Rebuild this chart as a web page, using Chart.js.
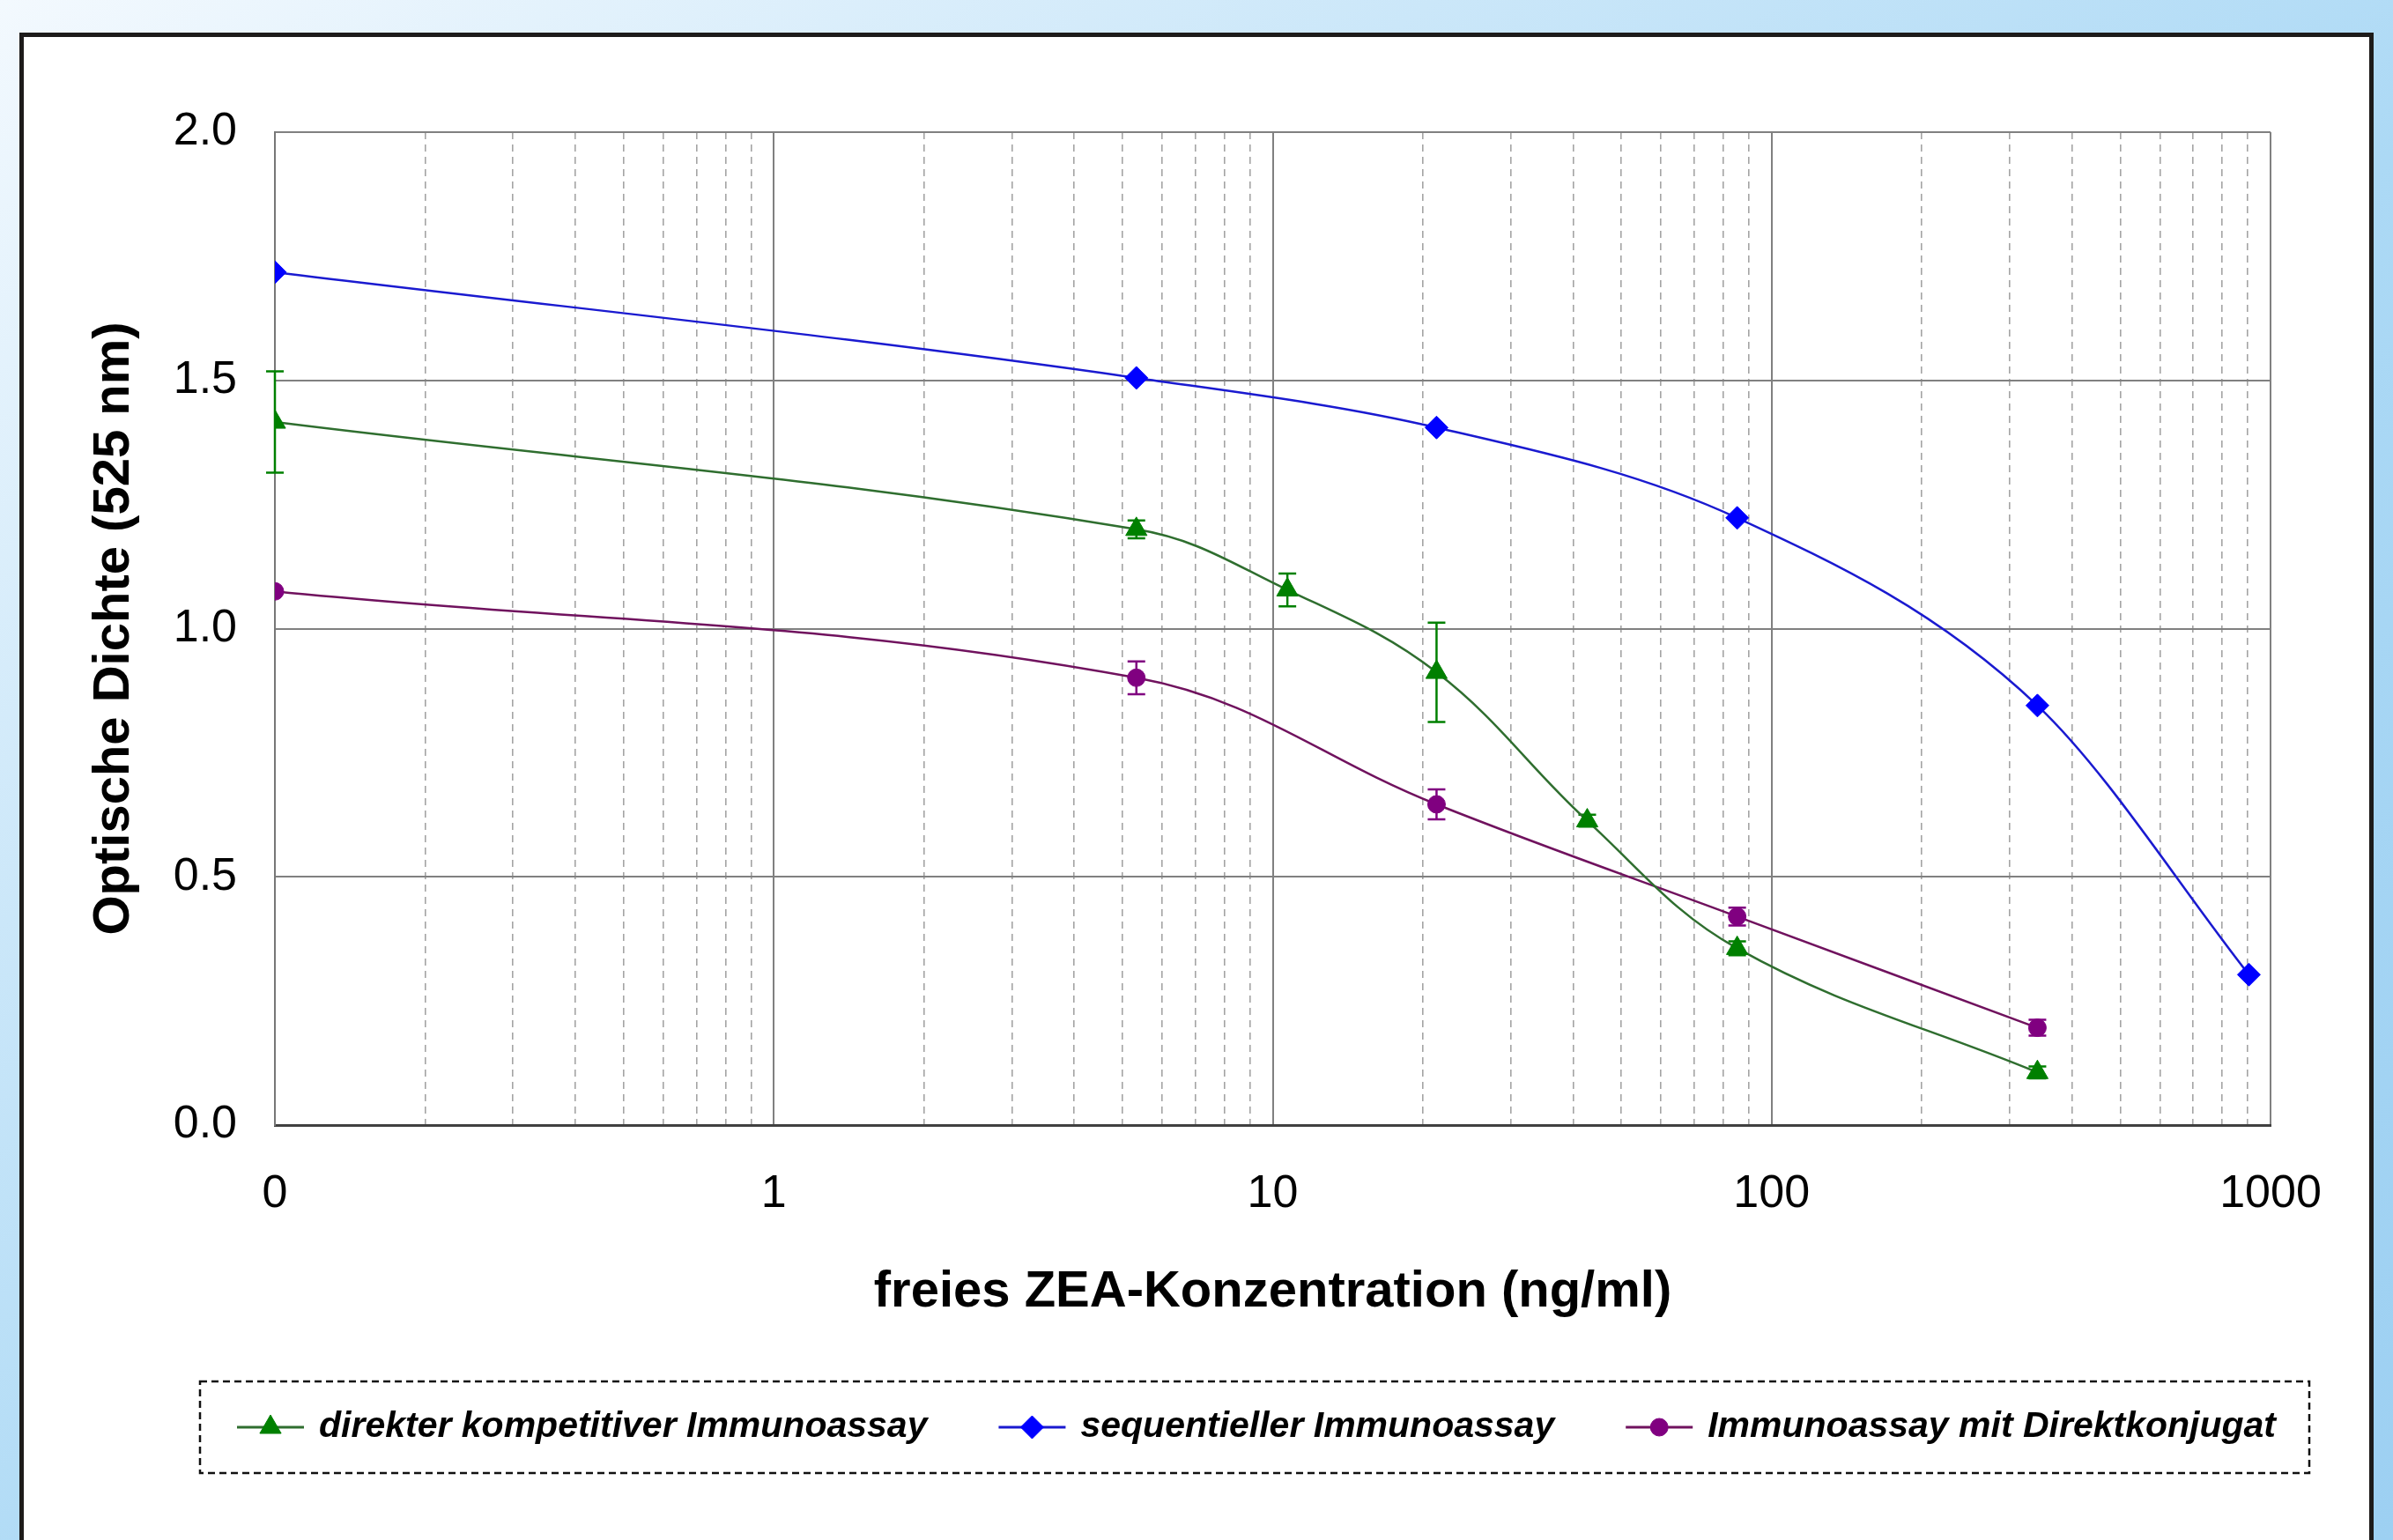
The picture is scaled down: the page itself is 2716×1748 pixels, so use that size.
<!DOCTYPE html>
<html>
<head>
<meta charset="utf-8">
<script src="https://cdn.jsdelivr.net/npm/chart.js@4.4.1/dist/chart.umd.min.js"></script>
<style>
  html, body { margin: 0; padding: 0; width: 2716px; height: 1748px; overflow: hidden; }
  body {
    position: relative;
    background: linear-gradient(to bottom right, #f3f9fe 0%, #cbe7f9 30%, #acd9f5 55%, #9dd0f2 100%);
  }
  #frame {
    position: absolute; left: 22px; top: 37px;
    width: 2662px; height: 1800px;
    border: 5px solid #1d1b1a; background: #fff;
  }
  #chart { position: absolute; left: 0; top: 0; }
</style>
</head>
<body>
<div id="frame"></div>
<canvas id="chart" width="2716" height="1748"></canvas>
<script>
// Achsen: log-Skala, "0" wird bei 0.1 aufgetragen
const xDecades    = [0.1, 1, 10, 100, 1000];
const xTickLabels = ['0', '1', '10', '100', '1000'];
const xMinorSteps = [2, 3, 4, 5, 6, 7, 8, 9];

// direkter kompetitiver Immunoassay
const dirConc = [0.1, 5.33, 10.7, 21.3, 42.7, 85.3, 341];
const dirOD   = [1.416, 1.200, 1.078, 0.912, 0.613, 0.356, 0.106];
const dirErr  = [0.102, 0.018, 0.033, 0.100, 0.012, 0.014, 0.012];

// sequentieller Immunoassay
const seqConc = [0.1, 5.33, 21.3, 85.3, 341, 905];
const seqOD   = [1.718, 1.505, 1.405, 1.223, 0.845, 0.303];

// Immunoassay mit Direktkonjugat
const konjConc = [0.1, 5.33, 21.3, 85.3, 341];
const konjOD   = [1.075, 0.901, 0.646, 0.420, 0.196];
const konjErr  = [0, 0.033, 0.030, 0.018, 0.016];

const toPoints = (xs, ys) => xs.map((x, i) => ({ x, y: ys[i] }));
const isDecade = v => Math.abs(Math.log10(v) - Math.round(Math.log10(v))) < 1e-6;

const FONT = '"Liberation Sans", Arial, sans-serif';
const LEGEND_FONT = 'italic bold 41px "Liberation Sans", Arial, sans-serif';

/* ── Fehlerbalken ── */
const errorBars = {
  id: 'errorBars',
  beforeDatasetsDraw(chart) {
    const { ctx, scales: { x, y } } = chart;
    chart.data.datasets.forEach(ds => {
      if (!ds.errors) return;
      ctx.save();
      ctx.strokeStyle = ds.pointBackgroundColor;
      ctx.lineWidth = 2.5;
      ds.data.forEach((p, j) => {
        const e = ds.errors[j];
        if (!e) return;
        const px = x.getPixelForValue(p.x);
        const top = y.getPixelForValue(p.y + e);
        const bot = y.getPixelForValue(p.y - e);
        ctx.beginPath();
        ctx.moveTo(px, top); ctx.lineTo(px, bot);
        ctx.moveTo(px - 10, top); ctx.lineTo(px + 10, top);
        ctx.moveTo(px - 10, bot); ctx.lineTo(px + 10, bot);
        ctx.stroke();
      });
      ctx.restore();
    });
  }
};

/* ── Legende im gestrichelten Kasten ── */
const boxLegend = {
  id: 'boxLegend',
  afterDraw(chart) {
    const { ctx } = chart;
    const cy = 1620;
    ctx.save();
    ctx.strokeStyle = '#111';
    ctx.lineWidth = 2.5;
    ctx.setLineDash([8, 5]);
    ctx.strokeRect(227, 1568, 2394, 104);
    ctx.setLineDash([]);
    ctx.font = LEGEND_FONT;
    ctx.textBaseline = 'middle';
    let x = 269;
    chart.data.datasets.forEach(ds => {
      ctx.strokeStyle = ds.borderColor;
      ctx.lineWidth = 3;
      ctx.beginPath();
      ctx.moveTo(x, cy); ctx.lineTo(x + 76, cy);
      ctx.stroke();
      ctx.fillStyle = ds.pointBackgroundColor;
      ctx.strokeStyle = ds.pointBackgroundColor;
      ctx.lineWidth = 1;
      Chart.helpers.drawPoint(ctx, { pointStyle: ds.pointStyle, radius: ds.pointRadius, rotation: 0, borderWidth: 1 }, x + 38, cy);
      ctx.fillStyle = '#000';
      ctx.fillText(ds.label, x + 93, cy);
      x += 93 + ctx.measureText(ds.label).width + 81;
    });
    ctx.restore();
  }
};

new Chart(document.getElementById('chart'), {
  type: 'line',
  data: {
    datasets: [
      {
        label: 'direkter kompetitiver Immunoassay',
        data: toPoints(dirConc, dirOD),
        errors: dirErr,
        borderColor: '#2f6e2f',
        borderWidth: 2.5,
        pointStyle: 'triangle',
        pointRadius: 14,
        pointBackgroundColor: '#008000',
        pointBorderColor: '#008000',
        pointBorderWidth: 1,
        tension: 0.38
      },
      {
        label: 'sequentieller Immunoassay',
        data: toPoints(seqConc, seqOD),
        borderColor: '#1a1ad0',
        borderWidth: 2.5,
        pointStyle: 'rectRot',
        pointRadius: 13,
        pointBackgroundColor: '#0000ff',
        pointBorderColor: '#0000ff',
        pointBorderWidth: 1,
        cubicInterpolationMode: 'monotone'
      },
      {
        label: 'Immunoassay mit Direktkonjugat',
        data: toPoints(konjConc, konjOD),
        errors: konjErr,
        borderColor: '#70125e',
        borderWidth: 2.5,
        pointStyle: 'circle',
        pointRadius: 10,
        pointBackgroundColor: '#800080',
        pointBorderColor: '#800080',
        pointBorderWidth: 1,
        tension: 0.38
      }
    ]
  },
  options: {
    responsive: false,
    animation: false,
    devicePixelRatio: 1,
    layout: { padding: { left: 0, top: 150, right: 139, bottom: 238 } },
    plugins: {
      legend: { display: false },
      tooltip: { enabled: false }
    },
    scales: {
      x: {
        type: 'logarithmic',
        min: 0.1,
        max: 1000,
        afterBuildTicks(scale) {
          const vals = [];
          xDecades.forEach(d => {
            vals.push(d);
            if (d < 1000) xMinorSteps.forEach(m => vals.push(d * m));
          });
          scale.ticks = vals.map(v => ({ value: v }));
        },
        afterFit(scale) { scale.height = 233; },
        ticks: {
          autoSkip: false,
          maxRotation: 0,
          padding: 47,
          color: '#000',
          font: { size: 52, family: FONT },
          callback(v) {
            const i = xDecades.findIndex(d => Math.abs(d - v) < 1e-9);
            return i >= 0 ? xTickLabels[i] : '';
          }
        },
        grid: {
          drawTicks: false,
          color: c => (c.tick && isDecade(c.tick.value)) ? '#808080' : '#a4a4a4',
          lineWidth: c => (c.tick && isDecade(c.tick.value)) ? 2 : 1.6
        },
        border: {
          color: '#404040',
          width: 3,
          dash: c => (c.tick && !isDecade(c.tick.value)) ? [8, 6] : []
        },
        title: {
          display: true,
          text: 'freies ZEA-Konzentration (ng/ml)',
          color: '#000',
          font: { size: 58, weight: 'bold', family: FONT },
          padding: { top: 0, bottom: 8 }
        }
      },
      y: {
        min: 0,
        max: 2,
        afterFit(scale) { scale.width = 312; },
        ticks: {
          stepSize: 0.5,
          padding: 43,
          color: '#000',
          font: { size: 52, family: FONT },
          callback: v => v.toFixed(1)
        },
        grid: {
          drawTicks: false,
          color: '#808080',
          lineWidth: 2
        },
        border: { color: '#777', width: 2 },
        title: {
          display: true,
          text: 'Optische Dichte (525 nm)',
          color: '#000',
          font: { size: 58, weight: 'bold', family: FONT },
          padding: { top: 95, bottom: 0 }
        }
      }
    }
  },
  plugins: [errorBars, boxLegend]
});
</script>
</body>
</html>
